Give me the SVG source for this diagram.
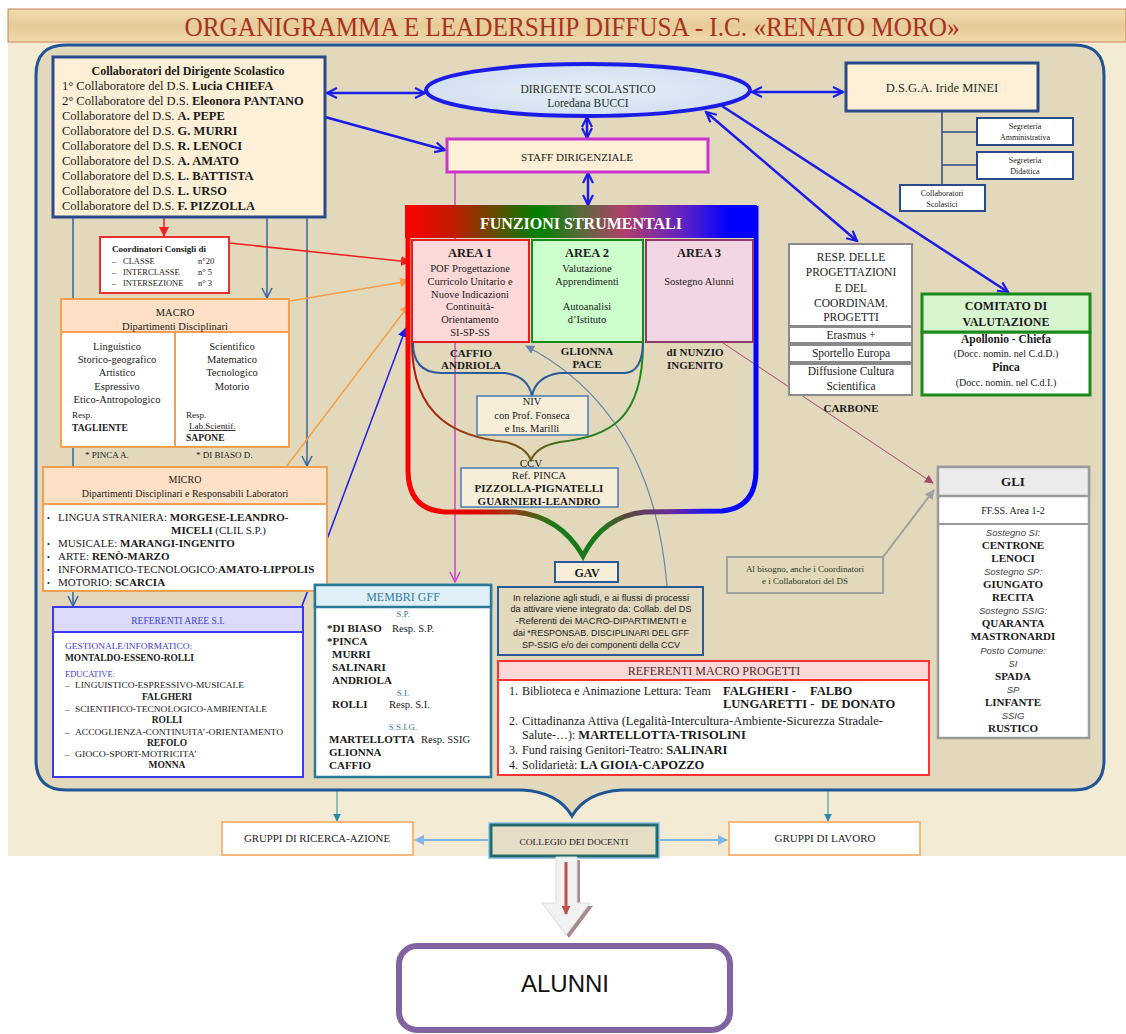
<svg xmlns="http://www.w3.org/2000/svg" width="1126" height="1034" viewBox="0 0 1126 1034">
<defs>
<style>
text{font-family:"Liberation Serif","Times New Roman",serif;fill:#1a1a1a}
.m{text-anchor:middle}
.b{font-weight:bold}
.i{font-style:italic}
.sans{font-family:"Liberation Sans",Arial,sans-serif}
.cream{fill:#fdf0d6;stroke:#2b4a8a;stroke-width:3}
.bl{stroke:#1c1ce8;stroke-width:2.5;fill:none}
.dk{stroke:#34649c;stroke-width:1.5;fill:none}
.peach{fill:#fde0c6;stroke:#f5a050;stroke-width:2}
.wo{fill:#fff;stroke:#f5a050;stroke-width:2}
.gr{fill:#fff;stroke:#8a8a8a;stroke-width:2}
.gi{font-family:"Liberation Sans",Arial,sans-serif;font-style:italic;font-size:9.5px;fill:#444}
</style>
<linearGradient id="ban" x1="0" y1="0" x2="0" y2="1">
<stop offset="0" stop-color="#f0dcb2"/><stop offset="0.5" stop-color="#e6cb98"/><stop offset="1" stop-color="#efd9ab"/>
</linearGradient>
<linearGradient id="hdr" x1="0" y1="0" x2="1" y2="0">
<stop offset="0" stop-color="#ff0000"/><stop offset="0.15" stop-color="#b82000"/><stop offset="0.38" stop-color="#008000"/><stop offset="0.5" stop-color="#5a6a3a"/><stop offset="0.62" stop-color="#b0406a"/><stop offset="0.8" stop-color="#5a20c8"/><stop offset="0.92" stop-color="#0000ff"/><stop offset="1" stop-color="#0000ff"/>
</linearGradient>
<linearGradient id="brk" gradientUnits="userSpaceOnUse" x1="405" y1="0" x2="760" y2="0">
<stop offset="0" stop-color="#ff0000"/><stop offset="0.2" stop-color="#e00000"/><stop offset="0.3" stop-color="#9a3a10"/><stop offset="0.42" stop-color="#1a7a1a"/><stop offset="0.55" stop-color="#1a7a1a"/><stop offset="0.62" stop-color="#5a4a3a"/><stop offset="0.75" stop-color="#6a2aa0"/><stop offset="0.88" stop-color="#1010ff"/><stop offset="1" stop-color="#0000ff"/>
</linearGradient>
<linearGradient id="ccvg" gradientUnits="userSpaceOnUse" x1="412" y1="0" x2="643" y2="0">
<stop offset="0" stop-color="#b01a0a"/><stop offset="0.35" stop-color="#8a4a10"/><stop offset="0.5" stop-color="#6a5a10"/><stop offset="0.7" stop-color="#2a7a1a"/><stop offset="1" stop-color="#1a8a1a"/>
</linearGradient>
<radialGradient id="ell" cx="0.5" cy="0.5" r="0.6">
<stop offset="0" stop-color="#e6eef8"/><stop offset="1" stop-color="#cfdef0"/>
</radialGradient>
<marker id="ab" viewBox="0 0 14 14" refX="12" refY="7" markerWidth="14" markerHeight="14" markerUnits="userSpaceOnUse" orient="auto-start-reverse"><path d="M2,2 L12,7 L2,12" fill="none" stroke="#1c1ce8" stroke-width="2.2"/></marker>
<marker id="ad" viewBox="0 0 12 12" refX="11" refY="6" markerWidth="12" markerHeight="12" markerUnits="userSpaceOnUse" orient="auto"><path d="M1,1 L11,6 L1,11" fill="none" stroke="#34649c" stroke-width="1.5"/></marker>
<marker id="am" viewBox="0 0 12 12" refX="11" refY="6" markerWidth="12" markerHeight="12" markerUnits="userSpaceOnUse" orient="auto"><path d="M1,1 L11,6 L1,11" fill="none" stroke="#d040d0" stroke-width="1.5"/></marker>
<marker id="sr" viewBox="0 0 10 10" refX="9" refY="5" markerWidth="10" markerHeight="10" markerUnits="userSpaceOnUse" orient="auto"><path d="M0,0 L10,5 L0,10 Z" fill="#f02020"/></marker>
<marker id="so" viewBox="0 0 10 10" refX="9" refY="5" markerWidth="10" markerHeight="10" markerUnits="userSpaceOnUse" orient="auto"><path d="M0,0 L10,5 L0,10 Z" fill="#f5a04a"/></marker>
<marker id="sb" viewBox="0 0 10 10" refX="9" refY="5" markerWidth="10" markerHeight="10" markerUnits="userSpaceOnUse" orient="auto"><path d="M0,0 L10,5 L0,10 Z" fill="#1c1ce8"/></marker>
<marker id="st" viewBox="0 0 10 10" refX="9" refY="5" markerWidth="8" markerHeight="8" markerUnits="userSpaceOnUse" orient="auto"><path d="M0,0 L10,5 L0,10 Z" fill="#2a8aaa"/></marker>
<marker id="sg" viewBox="0 0 10 10" refX="9" refY="5" markerWidth="10" markerHeight="10" markerUnits="userSpaceOnUse" orient="auto"><path d="M0,0 L10,5 L0,10 Z" fill="#a0a0a0"/></marker>
<marker id="sp" viewBox="0 0 10 10" refX="9" refY="5" markerWidth="9" markerHeight="9" markerUnits="userSpaceOnUse" orient="auto"><path d="M0,0 L10,5 L0,10 Z" fill="#a04a70"/></marker>
<marker id="sl" viewBox="0 0 10 10" refX="9" refY="5" markerWidth="10" markerHeight="10" markerUnits="userSpaceOnUse" orient="auto"><path d="M0,0 L10,5 L0,10 Z" fill="#80b4e6"/></marker>
<marker id="sgb" viewBox="0 0 10 10" refX="9" refY="5" markerWidth="9" markerHeight="9" markerUnits="userSpaceOnUse" orient="auto"><path d="M0,0 L10,5 L0,10 Z" fill="#6a85a8"/></marker>
<marker id="srd" viewBox="0 0 10 10" refX="9" refY="5" markerWidth="9" markerHeight="9" markerUnits="userSpaceOnUse" orient="auto"><path d="M0,0 L10,5 L0,10 Z" fill="#c0504d"/></marker>
</defs>

<rect width="1126" height="1034" fill="#ffffff"/>
<rect x="8" y="42" width="1118" height="814" fill="#f4ebd4"/>
<g id="title">
<rect x="8" y="9" width="1118" height="33" fill="url(#ban)" stroke="#c8845a" stroke-width="1"/>
<text x="572" y="36" class="m" font-size="28" fill="#a8321e" style="fill:#a8321e" textLength="775" lengthAdjust="spacingAndGlyphs">ORGANIGRAMMA E LEADERSHIP DIFFUSA -  I.C. «RENATO MORO»</text>
</g>
<g id="frame">
<path d="M66 45 L1074 45 Q1104 45 1104 75 L1104 760 Q1104 790 1074 790 L622 790 Q586 792 572 816 Q558 792 522 790 L66 790 Q36 790 36 760 L36 75 Q36 45 66 45 Z" fill="#e2d8bc" stroke="#1f5594" stroke-width="3"/>
</g>

<g id="connectors">
<line x1="327" y1="93" x2="425" y2="93" class="bl" marker-start="url(#ab)" marker-end="url(#ab)"/>
<line x1="325" y1="117" x2="445" y2="150" class="bl" marker-end="url(#ab)"/>
<line x1="752" y1="92" x2="843" y2="92" class="bl" marker-start="url(#ab)" marker-end="url(#ab)"/>
<line x1="587" y1="117" x2="587" y2="138" class="bl" marker-start="url(#ab)" marker-end="url(#ab)"/>
<line x1="588" y1="173" x2="588" y2="205" class="bl" marker-start="url(#ab)" marker-end="url(#ab)"/>
<line x1="706" y1="112" x2="857" y2="241" class="bl" marker-start="url(#ab)" marker-end="url(#ab)"/>
<line x1="722" y1="106" x2="1008" y2="292" class="bl" marker-end="url(#ab)"/>
<path d="M942 111 L942 185 M942 132 L977 132 M942 165 L977 165" stroke="#2b4a8a" stroke-width="1.5" fill="none"/>
<line x1="73" y1="218" x2="73" y2="606" class="dk" marker-end="url(#ad)"/>
<line x1="267" y1="218" x2="267" y2="298" class="dk" marker-end="url(#ad)"/>
<line x1="307" y1="218" x2="307" y2="466" class="dk" marker-end="url(#ad)"/>
<line x1="164" y1="218" x2="164" y2="236" stroke="#f02020" stroke-width="1.5" marker-end="url(#sr)"/>
<line x1="229" y1="243" x2="410" y2="262" stroke="#f02020" stroke-width="1.5" marker-end="url(#sr)"/>
<line x1="290" y1="301" x2="409" y2="281" stroke="#f5a04a" stroke-width="1.5" marker-end="url(#so)"/>
<line x1="286" y1="467" x2="409" y2="305" stroke="#f5a04a" stroke-width="1.5" marker-end="url(#so)"/>
<line x1="302" y1="606" x2="406" y2="328" stroke="#1c1ce8" stroke-width="1.5" marker-end="url(#sb)"/>
<line x1="455" y1="173" x2="455" y2="582" stroke="#d040d0" stroke-width="1.5" marker-end="url(#am)"/>
<path d="M667 586 C660 500 630 400 526 346" stroke="#6a85a8" stroke-width="1.2" fill="none" marker-end="url(#sgb)"/>
<line x1="723" y1="343" x2="933" y2="483" stroke="#a04a70" stroke-width="1" marker-end="url(#sp)"/>
<line x1="883" y1="557" x2="934" y2="490" stroke="#a0a0a0" stroke-width="2" marker-end="url(#sg)"/>
<line x1="337" y1="791" x2="337" y2="821" stroke="#2a8aaa" stroke-width="1" marker-end="url(#st)"/>
<line x1="828" y1="791" x2="828" y2="821" stroke="#2a8aaa" stroke-width="1" marker-end="url(#st)"/>
<line x1="490" y1="840" x2="415" y2="840" stroke="#80b4e6" stroke-width="2" marker-end="url(#sl)"/>
<line x1="658" y1="840" x2="727" y2="840" stroke="#80b4e6" stroke-width="2" marker-end="url(#sl)"/>
</g>

<g id="collaboratori">
<rect x="53" y="57" width="272" height="160" class="cream"/>
<g font-size="12.5" style="fill:#1d2e1d">
<text x="188" y="75" class="m b" font-size="12">Collaboratori del Dirigente Scolastico</text>
<text x="62" y="90">1° Collaboratore del D.S. <tspan class="b">Lucia CHIEFA</tspan></text>
<text x="62" y="105">2° Collaboratore del D.S. <tspan class="b">Eleonora PANTANO</tspan></text>
<text x="62" y="120">Collaboratore del D.S. <tspan class="b">A. PEPE</tspan></text>
<text x="62" y="135">Collaboratore del D.S. <tspan class="b">G. MURRI</tspan></text>
<text x="62" y="150">Collaboratore del D.S. <tspan class="b">R. LENOCI</tspan></text>
<text x="62" y="165">Collaboratore del D.S. <tspan class="b">A. AMATO</tspan></text>
<text x="62" y="180">Collaboratore del D.S. <tspan class="b">L. BATTISTA</tspan></text>
<text x="62" y="195">Collaboratore del D.S. <tspan class="b">L. URSO</tspan></text>
<text x="62" y="210">Collaboratore del D.S. <tspan class="b">F. PIZZOLLA</tspan></text>
</g>
</g>

<g id="dirigente">
<ellipse cx="588" cy="90" rx="162" ry="26" fill="url(#ell)" stroke="#1c1ce8" stroke-width="4"/>
<text x="588" y="93" class="m" font-size="11.5" style="fill:#1d2e1d">DIRIGENTE SCOLASTICO</text>
<text x="588" y="107" class="m" font-size="11.5" style="fill:#1d2e1d">Loredana BUCCI</text>
</g>

<g id="dsga">
<rect x="846" y="63" width="192" height="48" class="cream"/>
<text x="942" y="92" class="m" font-size="12.5" style="fill:#1d2e1d">D.S.G.A. Iride MINEI</text>
</g>
<g id="segreteria-amministrativa">
<rect x="977" y="118" width="96" height="27" fill="#fff" stroke="#2b4a8a" stroke-width="2"/>
<text x="1025" y="129" class="m" font-size="8">Segreteria</text>
<text x="1025" y="140" class="m" font-size="8">Amministrativa</text>
</g>
<g id="segreteria-didattica">
<rect x="977" y="152" width="96" height="27" fill="#fff" stroke="#2b4a8a" stroke-width="2"/>
<text x="1025" y="163" class="m" font-size="8">Segreteria</text>
<text x="1025" y="174" class="m" font-size="8">Didattica</text>
</g>
<g id="collaboratori-scolastici">
<rect x="900" y="185" width="85" height="26" fill="#fff" stroke="#2b4a8a" stroke-width="2"/>
<text x="942" y="196" class="m" font-size="8">Collaboratori</text>
<text x="942" y="207" class="m" font-size="8">Scolastici</text>
</g>

<g id="staff">
<rect x="447" y="139" width="261" height="33" fill="#fdf0d6" stroke="#cc33cc" stroke-width="3"/>
<text x="577" y="161" class="m" font-size="11">STAFF DIRIGENZIALE</text>
</g>

<g id="funzioni">
<path d="M408 206 L408 470 Q408 510 445 512 L515 512 Q560 516 583 556 Q603 516 645 512 L722 511 Q756 508 756 470 L756 206" fill="none" stroke="url(#brk)" stroke-width="5"/>
<rect x="405" y="205" width="352" height="33" fill="url(#hdr)"/>
<text x="581" y="229" class="m b" font-size="16" style="fill:#ffffff">FUNZIONI STRUMENTALI</text>
<rect x="412" y="240" width="117" height="102" fill="#fdd8d8" stroke="#e02020" stroke-width="2"/>
<rect x="532" y="240" width="111" height="102" fill="#ccffcc" stroke="#1a8a1a" stroke-width="2"/>
<rect x="646" y="240" width="107" height="102" fill="#f2d6e3" stroke="#8b3a6b" stroke-width="2"/>
<g font-size="10.5">
<text x="470" y="257" class="m b" font-size="12.5">AREA 1</text>
<text x="470" y="272" class="m">POF Progettazione</text>
<text x="470" y="285" class="m">Curricolo Unitario e</text>
<text x="470" y="298" class="m">Nuove Indicazioni</text>
<text x="470" y="310" class="m">Continuità-</text>
<text x="470" y="323" class="m">Orientamento</text>
<text x="470" y="336" class="m">SI-SP-SS</text>
<text x="587" y="257" class="m b" font-size="12.5">AREA 2</text>
<text x="587" y="272" class="m">Valutazione</text>
<text x="587" y="285" class="m">Apprendimenti</text>
<text x="587" y="310" class="m">Autoanalisi</text>
<text x="587" y="323" class="m">d’Istituto</text>
<text x="699" y="257" class="m b" font-size="12.5">AREA 3</text>
<text x="699" y="285" class="m">Sostegno Alunni</text>
</g>
<g font-size="11" class="b">
<text x="471" y="357" class="m b">CAFFIO</text>
<text x="471" y="369" class="m b">ANDRIOLA</text>
<text x="587" y="355" class="m b">GLIONNA</text>
<text x="587" y="368" class="m b">PACE</text>
<text x="695" y="356" class="m b">dI NUNZIO</text>
<text x="695" y="369" class="m b">INGENITO</text>
</g>
<path d="M412 343 C412 420 460 437 505 442 Q525 446 531 460 Q537 446 560 442 C610 436 643 420 643 343" fill="none" stroke="url(#ccvg)" stroke-width="2"/>
<path d="M413 343 Q413 372 440 373 L505 373 Q528 376 532 396 Q536 376 560 373 L625 373 Q642 372 643 343" fill="none" stroke="#2a5a9a" stroke-width="2"/>
</g>

<g id="niv">
<rect x="477" y="396" width="111" height="39" fill="#f6eed8" stroke="#4a7ab0" stroke-width="1.5"/>
<text x="532" y="405" class="m" font-size="10.5">NIV</text>
<text x="532" y="419" class="m" font-size="10.5">con Prof. Fonseca</text>
<text x="532" y="432" class="m" font-size="10.5">e Ins. Marilli</text>
</g>

<g id="ccv">
<text x="531" y="467" class="m" font-size="11">CCV</text>
<rect x="461" y="468" width="157" height="39" fill="#f6eed8" stroke="#4a7ab0" stroke-width="1.5"/>
<text x="539" y="479" class="m" font-size="11">Ref. PINCA</text>
<text x="539" y="492" class="m b" font-size="11">PIZZOLLA-PIGNATELLI</text>
<text x="539" y="505" class="m b" font-size="11">GUARNIERI-LEANDRO</text>
</g>

<g id="gav">
<rect x="555" y="562" width="63" height="20" fill="#f6eed8" stroke="#2a5a9a" stroke-width="2"/>
<text x="587" y="577" class="m b" font-size="12">GAV</text>
</g>
<g id="gav-note">
<rect x="498" y="587" width="205" height="68" fill="#e2d8bc" stroke="#2a5a9a" stroke-width="2"/>
<g class="sans" font-size="8.5" style="fill:#2a2a2a">
<text x="601" y="601" class="m sans" textLength="176" lengthAdjust="spacingAndGlyphs">In relazione agli studi, e ai flussi di processi</text>
<text x="601" y="612" class="m sans" textLength="181" lengthAdjust="spacingAndGlyphs">da attivare viene integrato da: Collab. del DS</text>
<text x="601" y="624" class="m sans" textLength="171" lengthAdjust="spacingAndGlyphs">-Referenti dei MACRO-DIPARTIMENTI e</text>
<text x="601" y="636" class="m sans" textLength="176" lengthAdjust="spacingAndGlyphs">dai *RESPONSAB. DISCIPLINARI DEL GFF</text>
<text x="601" y="648" class="m sans" textLength="158" lengthAdjust="spacingAndGlyphs">SP-SSIG e/o dei componenti della CCV</text>
</g>
</g>

<g id="coordinatori">
<rect x="100" y="237" width="129" height="56" fill="#fff" stroke="#e83030" stroke-width="2"/>
<text x="112" y="252" class="b" font-size="9">Coordinatori Consigli di</text>
<g font-size="8.5">
<text x="112" y="264">–</text><text x="123" y="264">CLASSE</text><text x="198" y="264">n°20</text>
<text x="112" y="275">–</text><text x="123" y="275">INTERCLASSE</text><text x="198" y="275">n° 5</text>
<text x="112" y="286">–</text><text x="123" y="286">INTERSEZIONE</text><text x="198" y="286">n° 3</text>
</g>
</g>

<g id="macro">
<rect x="61" y="299" width="228" height="33" class="peach"/>
<rect x="61" y="332" width="228" height="115" class="wo"/>
<line x1="175" y1="332" x2="175" y2="447" stroke="#f5a050" stroke-width="2"/>
<g font-size="10.5">
<text x="175" y="316" class="m">MACRO</text>
<text x="175" y="330" class="m">Dipartimenti Disciplinari</text>
<text x="117" y="350" class="m">Linguistico</text>
<text x="117" y="363" class="m">Storico-geografico</text>
<text x="117" y="376" class="m">Artistico</text>
<text x="117" y="390" class="m">Espressivo</text>
<text x="117" y="403" class="m">Etico-Antropologico</text>
<text x="232" y="350" class="m">Scientifico</text>
<text x="232" y="363" class="m">Matematico</text>
<text x="232" y="376" class="m">Tecnologico</text>
<text x="232" y="390" class="m">Motorio</text>
</g>
<text x="72" y="418" font-size="9">Resp.</text>
<text x="72" y="431" font-size="9.5" class="b">TAGLIENTE</text>
<text x="186" y="418" font-size="9">Resp.</text>
<text x="189" y="429" font-size="9" text-decoration="underline">Lab.Scientif.</text>
<text x="186" y="441" font-size="9.5" class="b">SAPONE</text>
<text x="85" y="458" font-size="9">* PINCA A.</text>
<text x="196" y="458" font-size="9">* DI BIASO D.</text>
</g>

<g id="micro">
<rect x="43" y="467" width="284" height="37" class="peach"/>
<rect x="43" y="504" width="284" height="87" class="wo"/>
<text x="185" y="483" class="m" font-size="10">MICRO</text>
<text x="185" y="497" class="m" font-size="10">Dipartimenti Disciplinari e Responsabili Laboratori</text>
<g font-size="11">
<text x="47" y="521" font-size="8">•</text><text x="58" y="521">LINGUA STRANIERA: <tspan class="b">MORGESE-LEANDRO-</tspan></text>
<text x="171" y="534" class="b">MICELI <tspan font-weight="normal">(CLIL S.P.)</tspan></text>
<text x="47" y="547" font-size="8">•</text><text x="58" y="547">MUSICALE: <tspan class="b">MARANGI-INGENITO</tspan></text>
<text x="47" y="560" font-size="8">•</text><text x="58" y="560">ARTE: <tspan class="b">RENÒ-MARZO</tspan></text>
<text x="47" y="573" font-size="8">•</text><text x="58" y="573">INFORMATICO-TECNOLOGICO:<tspan class="b">AMATO-LIPPOLIS</tspan></text>
<text x="47" y="586" font-size="8">•</text><text x="58" y="586">MOTORIO: <tspan class="b">SCARCIA</tspan></text>
</g>
</g>

<g id="referenti-aree">
<rect x="53" y="607" width="250" height="170" fill="#fff" stroke="#3a3af0" stroke-width="2"/>
<rect x="53" y="607" width="250" height="25" fill="#dcdcfa" stroke="#3a3af0" stroke-width="2"/>
<text x="178" y="624" class="m" font-size="9.5" style="fill:#4040d0">REFERENTI AREE S.I.</text>
<text x="65" y="649" font-size="8.5" style="fill:#3a3ad0" textLength="127" lengthAdjust="spacingAndGlyphs">GESTIONALE/INFORMATICO:</text>
<text x="65" y="661" font-size="9.5" class="b" textLength="129" lengthAdjust="spacingAndGlyphs">MONTALDO-ESSENO-ROLLI</text>
<text x="65" y="677" font-size="8.5" style="fill:#3a3ad0">EDUCATIVE:</text>
<g font-size="8.5">
<text x="65" y="688">–</text><text x="75" y="688" textLength="169" lengthAdjust="spacingAndGlyphs">LINGUISTICO-ESPRESSIVO-MUSICALE</text>
<text x="65" y="712">–</text><text x="75" y="712" textLength="192" lengthAdjust="spacingAndGlyphs">SCIENTIFICO-TECNOLOGICO-AMBIENTALE</text>
<text x="65" y="735">–</text><text x="75" y="735" textLength="208" lengthAdjust="spacingAndGlyphs">ACCOGLIENZA-CONTINUITA’-ORIENTAMENTO</text>
<text x="65" y="757">–</text><text x="75" y="757" textLength="122" lengthAdjust="spacingAndGlyphs">GIOCO-SPORT-MOTRICITA’</text>
</g>
<g font-size="9.5" class="b">
<text x="167" y="700" class="m b">FALGHERI</text>
<text x="167" y="723" class="m b">ROLLI</text>
<text x="167" y="746" class="m b">REFOLO</text>
<text x="167" y="768" class="m b">MONNA</text>
</g>
</g>

<g id="membri-gff">
<rect x="315" y="585" width="176" height="192" fill="#fff" stroke="#2a7a9a" stroke-width="2.5"/>
<rect x="315" y="585" width="176" height="22" fill="#dff1f7" stroke="#2a7a9a" stroke-width="2.5"/>
<text x="403" y="601" class="m" font-size="12" style="fill:#3a7aa0">MEMBRI GFF</text>
<g font-size="9" style="fill:#3a7aa0">
<text x="403" y="617" class="m" style="fill:#3a7aa0">S.P.</text>
<text x="403" y="696" class="m" style="fill:#3a7aa0">S.I.</text>
<text x="403" y="730" class="m" style="fill:#3a7aa0">S.S.I.G.</text>
</g>
<g font-size="11">
<text x="327" y="632" class="b">*DI BIASO</text><text x="392" y="632" font-size="10.5">Resp. S.P.</text>
<text x="327" y="645" class="b">*PINCA</text>
<text x="332" y="658" class="b">MURRI</text>
<text x="332" y="671" class="b">SALINARI</text>
<text x="332" y="684" class="b">ANDRIOLA</text>
<text x="332" y="708" class="b">ROLLI</text><text x="389" y="708" font-size="10.5">Resp. S.I.</text>
<text x="329" y="743" class="b">MARTELLOTTA</text><text x="421" y="743" font-size="10.5">Resp. SSIG</text>
<text x="329" y="756" class="b">GLIONNA</text>
<text x="329" y="769" class="b">CAFFIO</text>
</g>
</g>

<g id="resp-progettazioni">
<rect x="789" y="244" width="123" height="82" class="gr"/>
<rect x="789" y="327" width="123" height="16" class="gr"/>
<rect x="789" y="345" width="123" height="17" class="gr"/>
<rect x="789" y="364" width="123" height="31" class="gr"/>
<g font-size="11.5">
<text x="851" y="261" class="m">RESP. DELLE</text>
<text x="851" y="276" class="m">PROGETTAZIONI</text>
<text x="851" y="292" class="m">E DEL</text>
<text x="851" y="307" class="m">COORDINAM.</text>
<text x="851" y="321" class="m">PROGETTI</text>
<text x="851" y="339" class="m">Erasmus +</text>
<text x="851" y="357" class="m">Sportello Europa</text>
<text x="851" y="375" class="m">Diffusione Cultura</text>
<text x="851" y="390" class="m">Scientifica</text>
</g>
<text x="851" y="412" class="m b" font-size="11">CARBONE</text>
</g>

<g id="comitato">
<rect x="922" y="332" width="168" height="63" fill="#fff" stroke="#1a8a1a" stroke-width="3"/>
<rect x="922" y="294" width="168" height="38" fill="#d8f5d0" stroke="#1a8a1a" stroke-width="3"/>
<text x="1006" y="310" class="m b" font-size="12">COMITATO DI</text>
<text x="1006" y="326" class="m b" font-size="12">VALUTAZIONE</text>
<text x="1006" y="343" class="m b" font-size="11.5">Apollonio - Chiefa</text>
<text x="1006" y="357" class="m" font-size="10">(Docc. nomin. nel C.d.D.)</text>
<text x="1006" y="371" class="m b" font-size="11.5">Pinca</text>
<text x="1006" y="386" class="m" font-size="10">(Docc. nomin. nel C.d.I.)</text>
</g>

<g id="gli">
<rect x="938" y="467" width="151" height="271" fill="#fff" stroke="#9a9a9a" stroke-width="2.5"/>
<rect x="938" y="467" width="151" height="29" fill="#ececec" stroke="#9a9a9a" stroke-width="2.5"/>
<line x1="938" y1="524" x2="1089" y2="524" stroke="#9a9a9a" stroke-width="2"/>
<text x="1013" y="486" class="m b" font-size="13">GLI</text>
<text x="1013" y="514" class="m" font-size="10">FF.SS. Area 1-2</text>
<text x="1013" y="536" class="m gi">Sostegno SI:</text>
<text x="1013" y="549" class="m b" font-size="11">CENTRONE</text>
<text x="1013" y="562" class="m b" font-size="11">LENOCI</text>
<text x="1013" y="575" class="m gi">Sostegno SP:</text>
<text x="1013" y="588" class="m b" font-size="11">GIUNGATO</text>
<text x="1013" y="601" class="m b" font-size="11">RECITA</text>
<text x="1013" y="614" class="m gi">Sostegno SSIG:</text>
<text x="1013" y="627" class="m b" font-size="11">QUARANTA</text>
<text x="1013" y="640" class="m b" font-size="11">MASTRONARDI</text>
<text x="1013" y="654" class="m gi">Posto Comune:</text>
<text x="1013" y="667" class="m gi">SI</text>
<text x="1013" y="680" class="m b" font-size="11">SPADA</text>
<text x="1013" y="693" class="m gi">SP</text>
<text x="1013" y="706" class="m b" font-size="11">LINFANTE</text>
<text x="1013" y="719" class="m gi">SSIG</text>
<text x="1013" y="732" class="m b" font-size="11">RUSTICO</text>
</g>

<g id="al-bisogno">
<rect x="727" y="557" width="156" height="36" fill="#e2d8bc" stroke="#a0a0a0" stroke-width="2"/>
<text x="805" y="572" class="m" font-size="9" style="fill:#2a3a1a">Al bisogno, anche i Coordinatori</text>
<text x="805" y="584" class="m" font-size="9" style="fill:#2a3a1a">e i Collaboratori del DS</text>
</g>

<g id="referenti-macro-progetti">
<rect x="498" y="661" width="431" height="114" fill="#fff" stroke="#ff3030" stroke-width="2"/>
<rect x="498" y="661" width="431" height="19" fill="#fdd8d8" stroke="#ff3030" stroke-width="2"/>
<text x="714" y="675" class="m" font-size="12" style="fill:#4a2a2a">REFERENTI MACRO PROGETTI</text>
<g font-size="12">
<text x="509" y="695">1.</text><text x="522" y="695">Biblioteca e Animazione Lettura: Team</text>
<text x="723" y="695" class="b" font-size="12.5">FALGHERI -</text><text x="810" y="695" class="b" font-size="12.5">FALBO</text>
<text x="723" y="708" class="b" font-size="12.5">LUNGARETTI -</text><text x="821" y="708" class="b" font-size="12.5">DE DONATO</text>
<text x="509" y="725">2.</text><text x="522" y="725" textLength="361" lengthAdjust="spacingAndGlyphs">Cittadinanza Attiva (Legalità-Intercultura-Ambiente-Sicurezza Stradale-</text>
<text x="522" y="739">Salute-…): <tspan class="b" font-size="12.5">MARTELLOTTA-TRISOLINI</tspan></text>
<text x="509" y="754">3.</text><text x="522" y="754">Fund raising Genitori-Teatro: <tspan class="b" font-size="12.5">SALINARI</tspan></text>
<text x="509" y="769">4.</text><text x="522" y="769">Solidarietà: <tspan class="b" font-size="12.5">LA GIOIA-CAPOZZO</tspan></text>
</g>
</g>

<g id="gruppi-ricerca">
<rect x="222" y="822" width="191" height="33" fill="#fff" stroke="#f5a55a" stroke-width="1.5"/>
<text x="317" y="842" class="m" font-size="9.5" textLength="146" lengthAdjust="spacingAndGlyphs">GRUPPI DI RICERCA-AZIONE</text>
</g>
<g id="collegio">
<rect x="491" y="825" width="166" height="31" fill="none" stroke="#9fcdf2" stroke-width="6"/>
<rect x="491" y="825" width="166" height="31" fill="#e6ddc6" stroke="#246a6a" stroke-width="3"/>
<text x="574" y="845" class="m" font-size="8.5" textLength="109" lengthAdjust="spacingAndGlyphs">COLLEGIO DEI DOCENTI</text>
</g>
<g id="gruppi-lavoro">
<rect x="729" y="822" width="191" height="33" fill="#fff" stroke="#f5a55a" stroke-width="1.5"/>
<text x="825" y="842" class="m" font-size="9.5" textLength="101" lengthAdjust="spacingAndGlyphs">GRUPPI DI LAVORO</text>
</g>

<g id="down-arrow">
<path d="M559 860 L580 860 L580 906 L593 906 L569 938 L545 906 L559 906 Z" fill="#a88c8c"/>
<path d="M556 857 L577 857 L577 903 L590 903 L566 935 L542 903 L556 903 Z" fill="#f2f2f2" stroke="#dcdcdc" stroke-width="1"/>
<line x1="566" y1="862" x2="566" y2="914" stroke="#c0504d" stroke-width="3" marker-end="url(#srd)"/>
</g>

<g id="alunni">
<rect x="399" y="946" width="331" height="84" rx="18" fill="#fff" stroke="#8064a2" stroke-width="6"/>
<text x="565" y="992" class="m sans" font-size="24" style="fill:#111">ALUNNI</text>
</g>
</svg>
